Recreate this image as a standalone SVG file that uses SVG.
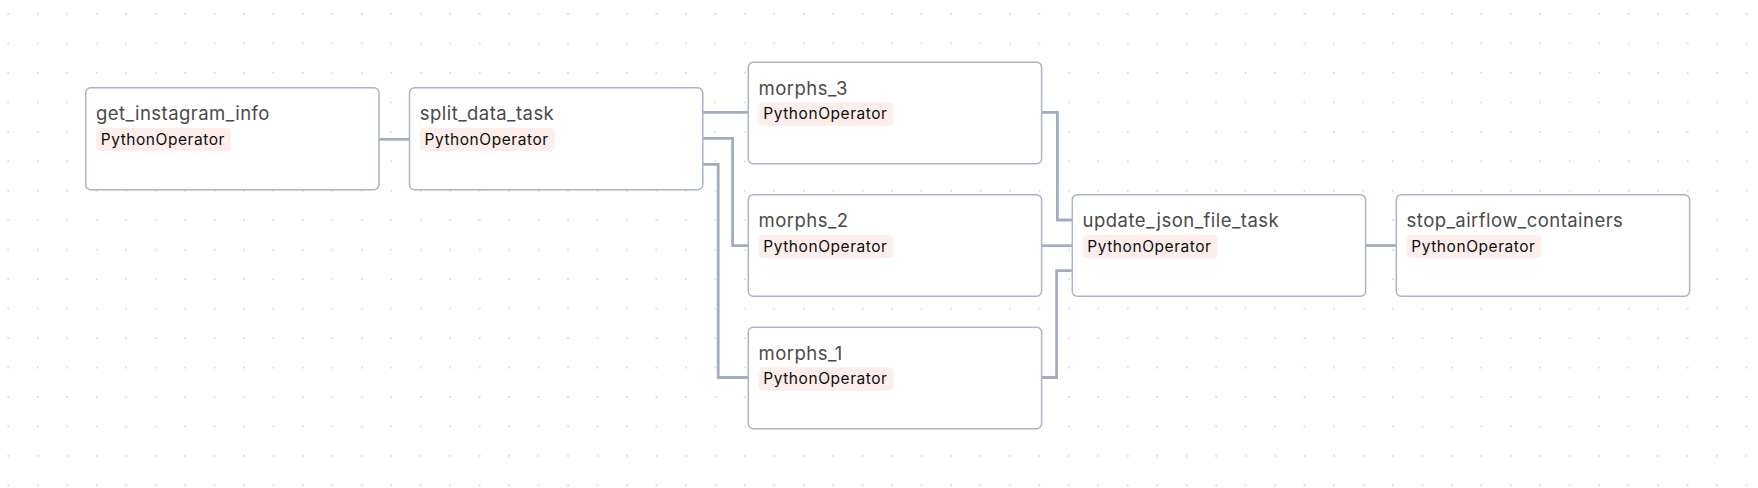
<svg xmlns="http://www.w3.org/2000/svg" width="1758" height="488" viewBox="0 0 1758 488">
<style>
.node rect.box{fill:#ffffff;stroke:#a9b4c6;stroke-width:1.5}
.node rect.badge{fill:#fdeeec}
.title{font-family:Inter,"Liberation Sans",sans-serif;font-size:18.5px;letter-spacing:0.45px;fill:#4a4a4a}
.op{font-family:Inter,"Liberation Sans",sans-serif;font-size:15.5px;letter-spacing:0.55px;fill:#0d0d0d}
.edge{fill:none;stroke:#a3adc0;stroke-width:2.8}
</style>
<defs>
<pattern id="dots" x="-6.43" y="-0.73" width="29.46" height="29.46" patternUnits="userSpaceOnUse">
<circle cx="14.73" cy="14.73" r="0.8" fill="#b8b8b8"/>
</pattern>
</defs>
<rect x="0" y="0" width="1758" height="488" fill="#ffffff"/>
<rect x="0" y="0" width="1758" height="488" fill="url(#dots)"/>
<g id="connectors">
<path class="edge" d="M379,139.3 H409.5"/>
<path class="edge" d="M703,112.3 H748.3"/>
<path class="edge" d="M703,138.3 H732.6 V245.7 H748.3"/>
<path class="edge" d="M703,164.3 H718.2 V377.5 H748.3"/>
<path class="edge" d="M1041.7,112.3 H1057.4 V220 H1072.3"/>
<path class="edge" d="M1041.7,245.7 H1072.3"/>
<path class="edge" d="M1041.7,377.5 H1056.6 V270.7 H1072.3"/>
<path class="edge" d="M1365.7,245.5 H1396.3"/>
</g>
<g id="get_instagram_info" class="node" transform="translate(85.7,87.7)">
<rect class="box" x="0" y="0" width="293.3" height="102" rx="5"/>
<text class="title" x="10.3" y="32.3">get_instagram_info</text>
<rect class="badge" x="10.3" y="40" width="135" height="23.5" rx="5"/>
<text class="op" x="15" y="57">PythonOperator</text>
</g>
<g id="split_data_task" class="node" transform="translate(409.5,87.7)">
<rect class="box" x="0" y="0" width="293.3" height="102" rx="5"/>
<text class="title" x="10.3" y="32.3">split_data_task</text>
<rect class="badge" x="10.3" y="40" width="135" height="23.5" rx="5"/>
<text class="op" x="15" y="57">PythonOperator</text>
</g>
<g id="morphs_3" class="node" transform="translate(748.3,62.3)">
<rect class="box" x="0" y="0" width="293.3" height="101.5" rx="5"/>
<text class="title" x="10.3" y="32.3">morphs_3</text>
<rect class="badge" x="10.3" y="40" width="135" height="23.5" rx="5"/>
<text class="op" x="15" y="57">PythonOperator</text>
</g>
<g id="morphs_2" class="node" transform="translate(748.3,194.7)">
<rect class="box" x="0" y="0" width="293.3" height="101.5" rx="5"/>
<text class="title" x="10.3" y="32.3">morphs_2</text>
<rect class="badge" x="10.3" y="40" width="135" height="23.5" rx="5"/>
<text class="op" x="15" y="57">PythonOperator</text>
</g>
<g id="morphs_1" class="node" transform="translate(748.3,327.3)">
<rect class="box" x="0" y="0" width="293.3" height="101.5" rx="5"/>
<text class="title" x="10.3" y="32.3">morphs_1</text>
<rect class="badge" x="10.3" y="40" width="135" height="23.5" rx="5"/>
<text class="op" x="15" y="57">PythonOperator</text>
</g>
<g id="update_json_file_task" class="node" transform="translate(1072.3,194.7)">
<rect class="box" x="0" y="0" width="293.3" height="101.5" rx="5"/>
<text class="title" x="10.3" y="32.3">update_json_file_task</text>
<rect class="badge" x="10.3" y="40" width="135" height="23.5" rx="5"/>
<text class="op" x="15" y="57">PythonOperator</text>
</g>
<g id="stop_airflow_containers" class="node" transform="translate(1396.3,194.7)">
<rect class="box" x="0" y="0" width="293.3" height="101.5" rx="5"/>
<text class="title" x="10.3" y="32.3">stop_airflow_containers</text>
<rect class="badge" x="10.3" y="40" width="135" height="23.5" rx="5"/>
<text class="op" x="15" y="57">PythonOperator</text>
</g>
</svg>
